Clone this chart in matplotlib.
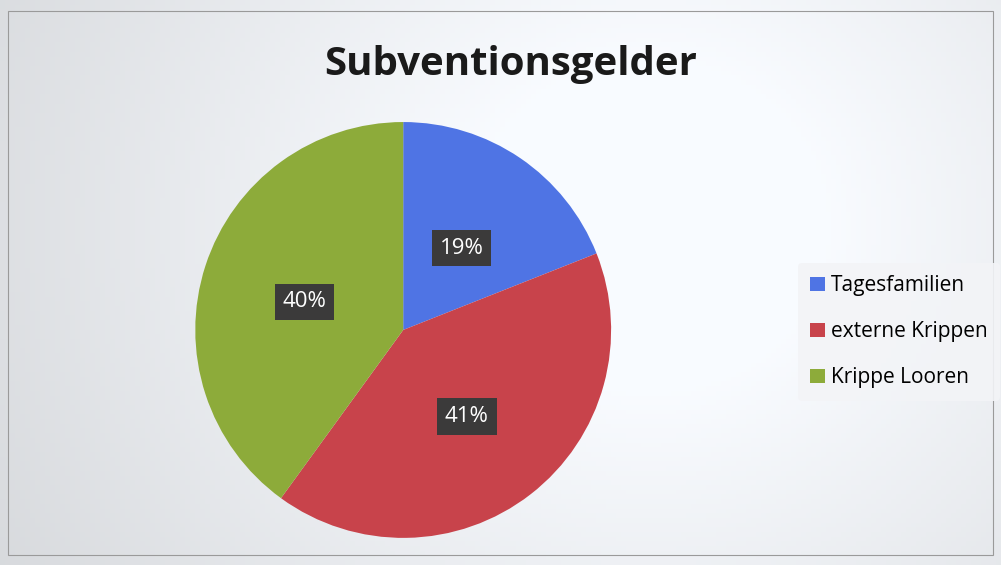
import numpy as np
import matplotlib.pyplot as plt
from matplotlib.patches import Rectangle

# data
categories = ["Tagesfamilien", "externe Krippen", "Krippe Looren"]
shares = [19, 41, 40]
colors = ["#4f74e4", "#c8434b", "#8dab3a"]
title = "Subventionsgelder"

plt.rcParams['font.family'] = ['Open Sans', 'DejaVu Sans']

fig = plt.figure(figsize=(10.01, 5.65), dpi=100)

# soft scanned-looking background: grey at the left, white toward the center-right
bg = fig.add_axes([0, 0, 1, 1])
xx, yy = np.meshgrid(np.linspace(0, 1, 200), np.linspace(0, 1, 120))
shade = 0.86 + 0.14 * np.clip(1.3 - np.hypot((xx - 0.65) / 0.6, (yy - 0.6) / 1.0), 0, 1)
shade = np.clip(shade, 0, 1)
img = np.dstack([shade * 0.975, shade * 0.985, shade * 1.0])
bg.imshow(img, extent=[0, 1, 0, 1], aspect='auto', origin='lower')
bg.add_patch(Rectangle((0.008, 0.018), 0.984, 0.963, fill=False, ec='#9a9a9a', lw=0.8))
bg.set_xlim(0, 1)
bg.set_ylim(0, 1)
bg.axis('off')

fig.text(0.51, 0.885, title, ha='center', va='center', fontsize=29,
         fontweight='bold', color='#1a1a1a')

ax = fig.add_axes([0.195, 0.048, 0.4156, 0.736])
wedges, texts = ax.pie(shares, colors=colors, startangle=90, counterclock=False,
                       wedgeprops=dict(linewidth=0))
ax.set_xlim(-1, 1)
ax.set_ylim(-1, 1)
ax.set_aspect('equal')

for w, v in zip(wedges, shares):
    ang = np.deg2rad((w.theta1 + w.theta2) / 2)
    r = 0.5
    ax.text(r * np.cos(ang), r * np.sin(ang) - 0.02, f"{v}%", ha='center', va='center',
            fontsize=16, color='white',
            bbox=dict(boxstyle='square,pad=0.35', fc='#3b3a3a', ec='none'))

leg = fig.legend(wedges, categories, loc='center left', bbox_to_anchor=(0.797, 0.413),
                 fontsize=15, frameon=True, handlelength=0.7, handleheight=0.7,
                 handletextpad=0.3, labelspacing=1.2, borderpad=0.6,
                 borderaxespad=0.0)
leg.get_frame().set_facecolor('#f3f4f7')
leg.get_frame().set_edgecolor('none')
leg.get_frame().set_alpha(0.9)

fig.savefig("out.png", dpi=100)
